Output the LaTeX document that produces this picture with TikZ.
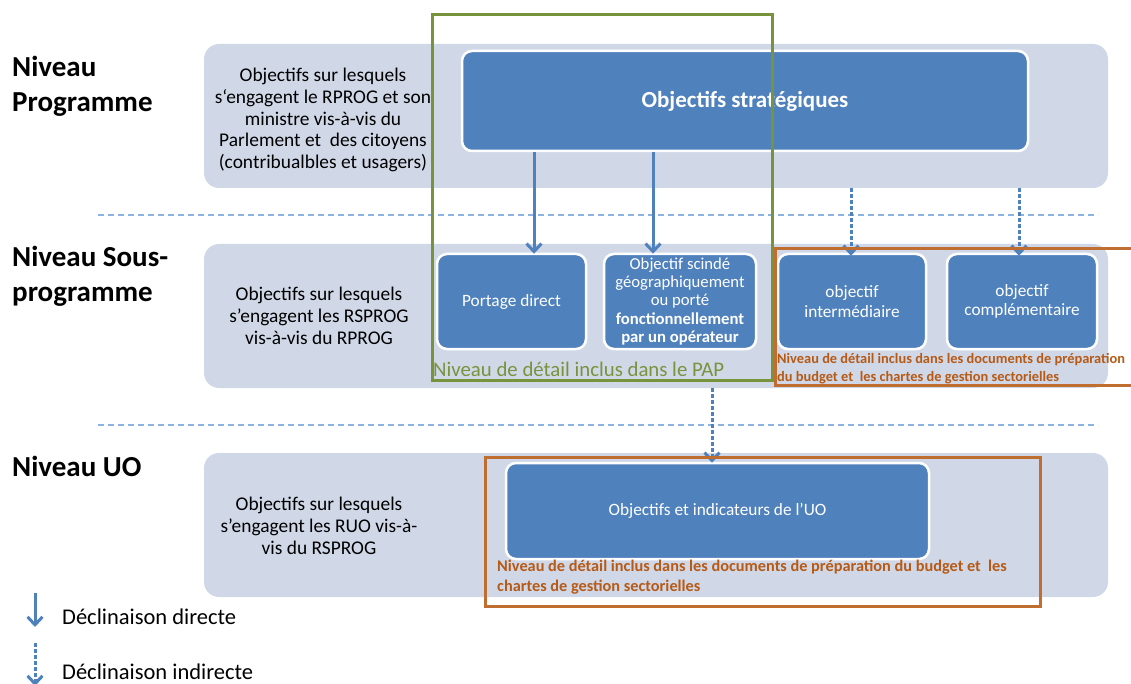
\documentclass[tikz,border=0pt]{standalone}
\usepackage{fontspec}
\setmainfont{Carlito}
\usetikzlibrary{arrows.meta}
\definecolor{panel}{RGB}{208,216,232}
\definecolor{bluebox}{RGB}{79,129,189}
\definecolor{greenframe}{RGB}{119,147,60}
\definecolor{orangeframe}{RGB}{192,110,48}
\definecolor{orangetext}{RGB}{182,90,22}
\definecolor{dashblue}{RGB}{141,179,226}
\begin{document}
\begin{tikzpicture}[x=1pt,y=-1pt,
  panelbox/.style={fill=panel, draw=none, rounded corners=15pt, minimum width=904pt, minimum height=144pt, inner sep=0pt},
  bluenode/.style={fill=bluebox, draw=white, line width=2.5pt, rounded corners=10pt, text=white, inner sep=0pt, align=center, font=\fontsize{17.3}{19.5}\selectfont},
  paneltext/.style={align=center, inner sep=0pt, font=\fontsize{19.4}{21.7}\selectfont},
  leveltext/.style={anchor=west, align=left, inner sep=0pt, font=\fontsize{29}{35}\selectfont\bfseries},
  legendtext/.style={anchor=west, inner sep=0pt, font=\fontsize{22.5}{24}\selectfont},
  direct/.style={draw=bluebox, line width=3pt, -{Straight Barb[length=8pt,width=15pt]}},
  indirect/.style={direct, dash pattern=on 3.5pt off 2.5pt},
  sepline/.style={draw=dashblue, line width=1.3pt, dash pattern=on 6pt off 4pt},
  greenline/.style={draw=greenframe, line width=3pt},
  orangeline/.style={draw=orangeframe, line width=3pt},
  orangenote/.style={anchor=west, align=left, inner sep=0pt, text=orangetext}
]
\useasboundingbox (0,0) rectangle (1131,684);
\clip (0,0) rectangle (1131,684);

% panels
\node[panelbox] (p1) at (656,116) {};
\node[panelbox] (p2) at (656,316) {};
\node[panelbox] (p3) at (656,525) {};

% separators
\coordinate (s1a) at (98,215); \coordinate (s1b) at (1098,215);
\coordinate (s2a) at (98,425); \coordinate (s2b) at (1098,425);
\draw[sepline] (s1a) -- (s1b);
\draw[sepline] (s2a) -- (s2b);

% level labels
\node[leveltext] (l1) at (12,86) {Niveau\\Programme};
\node[leveltext] (l2) at (12,276) {Niveau Sous-\\programme};
\node[leveltext] (l3) at (12,466) {Niveau UO};

% panel texts
\begin{scope}
\clip (204,44) rectangle (430,188);
\node[paneltext] (t1) at (323,120) {Objectifs sur lesquels\\s‘engagent le RPROG et son\\ministre vis-à-vis du\\Parlement et\ \ des citoyens\\(contribualbles et usagers)};
\end{scope}
\node[paneltext] (t2) at (319,316) {Objectifs sur lesquels\\s'engagent les RSPROG\\vis-à-vis du RPROG};
\node[paneltext] (t3) at (319,526) {Objectifs sur lesquels\\s'engagent les RUO vis-à-\\vis du RSPROG};

% blue boxes
\node[bluenode, minimum width=566pt, minimum height=100pt, font=\fontsize{23}{26}\selectfont\bfseries] (strat) at (745,101) {Objectifs stratégiques};
\node[bluenode, minimum width=149pt, minimum height=95pt] (portage) at (511.5,301.5) {Portage direct};
\node[bluenode, minimum width=152pt, minimum height=95pt, font=\fontsize{16.7}{18.4}\selectfont] (scinde) at (680,301.5) {Objectif scindé\\géographiquement\\ou porté\\\textbf{fonctionnellement}\\\textbf{par un opérateur}};
\node[bluenode, minimum width=148pt, minimum height=95pt] (inter) at (852,301.5) {objectif\\intermédiaire};
\node[bluenode, minimum width=150pt, minimum height=95pt] (compl) at (1022,301.5) {objectif\\complémentaire};
\node[bluenode, minimum width=423pt, minimum height=96pt] (uo) at (717.5,511) {Objectifs et indicateurs de l’UO};

% arrows
\coordinate (c1) at (534,0);
\coordinate (c2) at (653,0);
\coordinate (c3) at (851,0);
\coordinate (c4) at (1019,0);
\coordinate (c5) at (712,0);
\draw[direct] (strat.south -| c1) -- ([yshift=-1pt]portage.north -| c1);
\draw[direct] (strat.south -| c2) -- ([yshift=-1pt]scinde.north -| c2);
\draw[indirect] (p1.south -| c3) -- ([yshift=-3pt]inter.north -| c3);
\draw[indirect] (p1.south -| c4) -- ([yshift=-3pt]compl.north -| c4);
\draw[indirect] (p2.south -| c5) -- ([yshift=-1pt]uo.north -| c5);

% notes
\node[anchor=west, inner sep=0pt, text=greenframe, font=\fontsize{20.8}{22}\selectfont] (gnote) at (433,369) {Niveau de détail inclus dans le PAP};
\node[orangenote, font=\fontsize{14.4}{18}\selectfont\bfseries] (onote1) at (777,369) {Niveau de détail inclus dans les documents de préparation\\du budget et\ \ les chartes de gestion sectorielles};
\node[orangenote, font=\fontsize{16.3}{20}\selectfont\bfseries] (onote2) at (497,577) {Niveau de détail inclus dans les documents de préparation du budget et\ \ les\\chartes de gestion sectorielles};

% frames
\draw[greenline] (432,15) rectangle (772,380);
\draw[orangeline] (1140,249) -- (775,249) -- (775,385) -- (1140,385);
\draw[orangeline] (485,457) rectangle (1040,606);

% legend
\coordinate (la1) at (35,593); \coordinate (la2) at (35,627);
\coordinate (lb1) at (35,643); \coordinate (lb2) at (35,686);
\draw[direct] (la1) -- (la2);
\draw[indirect] (lb1) -- (lb2);
\node[legendtext] (leg1) at (62,617) {Déclinaison directe};
\node[legendtext] (leg2) at (62,672) {Déclinaison indirecte};
\end{tikzpicture}
\end{document}
